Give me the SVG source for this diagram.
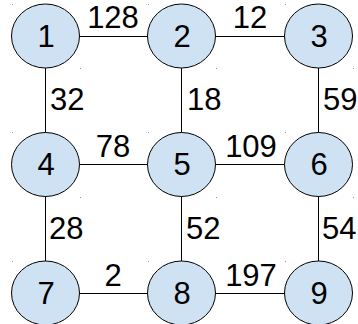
<svg xmlns="http://www.w3.org/2000/svg" width="358" height="324" viewBox="0 0 358 324">
<style>
.n{fill:#cfe2f3;stroke:#000;stroke-width:1}
.e{stroke:#000;stroke-width:1;fill:none}
text{font-family:"Liberation Sans",Arial,sans-serif;font-size:31px;fill:#000}
.c{text-anchor:middle}
.h{fill:#999}
</style>
<rect width="358" height="324" fill="#fff"/>
<g id="connectors">
<line class="e" x1="79" y1="36.5" x2="148" y2="36.5"/>
<line class="e" x1="215" y1="36.5" x2="285" y2="36.5"/>
<line class="e" x1="79" y1="164.5" x2="148" y2="164.5"/>
<line class="e" x1="215" y1="164.5" x2="285" y2="164.5"/>
<line class="e" x1="79" y1="293.5" x2="148" y2="293.5"/>
<line class="e" x1="215" y1="293.5" x2="285" y2="293.5"/>
<line class="e" x1="45.5" y1="68" x2="45.5" y2="133"/>
<line class="e" x1="181.5" y1="68" x2="181.5" y2="133"/>
<line class="e" x1="318.5" y1="68" x2="318.5" y2="133"/>
<line class="e" x1="45.5" y1="196" x2="45.5" y2="261"/>
<line class="e" x1="181.5" y1="196" x2="181.5" y2="261"/>
<line class="e" x1="318.5" y1="196" x2="318.5" y2="261"/>
<text class="c" x="113" y="28">128</text>
<text class="c" x="250" y="28">12</text>
<text x="50" y="110">32</text>
<text x="187" y="110">18</text>
<text x="323" y="110">59</text>
<text class="c" x="113" y="157">78</text>
<text class="c" x="251" y="157">109</text>
<text x="49" y="239">28</text>
<text x="186" y="239">52</text>
<text x="322" y="239">54</text>
<text class="c" x="113" y="286">2</text>
<text class="c" x="251" y="286">197</text>
</g>
<g id="node1"><ellipse class="n" cx="45.5" cy="36" rx="34" ry="32"/><text class="c" x="46" y="47">1</text></g>
<g id="node2"><ellipse class="n" cx="181.5" cy="36" rx="34" ry="32"/><text class="c" x="182" y="47">2</text></g>
<g id="node3"><ellipse class="n" cx="318.5" cy="36" rx="34" ry="32"/><text class="c" x="319" y="47">3</text></g>
<g id="node4"><ellipse class="n" cx="45.5" cy="164.5" rx="34" ry="32"/><text class="c" x="46" y="175">4</text></g>
<g id="node5"><ellipse class="n" cx="181.5" cy="164.5" rx="34" ry="32"/><text class="c" x="182" y="175">5</text></g>
<g id="node6"><ellipse class="n" cx="318.5" cy="164.5" rx="34" ry="32"/><text class="c" x="319" y="175">6</text></g>
<g id="node7"><ellipse class="n" cx="45.5" cy="293" rx="34" ry="32"/><text class="c" x="46" y="304">7</text></g>
<g id="node8"><ellipse class="n" cx="181.5" cy="293" rx="34" ry="32"/><text class="c" x="182" y="304">8</text></g>
<g id="node9"><ellipse class="n" cx="318.5" cy="293" rx="34" ry="32"/><text class="c" x="319" y="304">9</text></g>
<g id="handles">
<rect class="h" x="12" y="4" width="1" height="1"/><rect class="h" x="148" y="4" width="1" height="1"/><rect class="h" x="285" y="4" width="1" height="1"/>
<rect class="h" x="80" y="68" width="1" height="1"/><rect class="h" x="216" y="68" width="1" height="1"/><rect class="h" x="353" y="68" width="1" height="1"/>
<rect class="h" x="12" y="132" width="1" height="1"/><rect class="h" x="148" y="132" width="1" height="1"/><rect class="h" x="285" y="132" width="1" height="1"/>
<rect class="h" x="80" y="197" width="1" height="1"/><rect class="h" x="216" y="197" width="1" height="1"/><rect class="h" x="353" y="197" width="1" height="1"/>
<rect class="h" x="12" y="261" width="1" height="1"/><rect class="h" x="148" y="261" width="1" height="1"/><rect class="h" x="285" y="261" width="1" height="1"/>
</g>
</svg>
